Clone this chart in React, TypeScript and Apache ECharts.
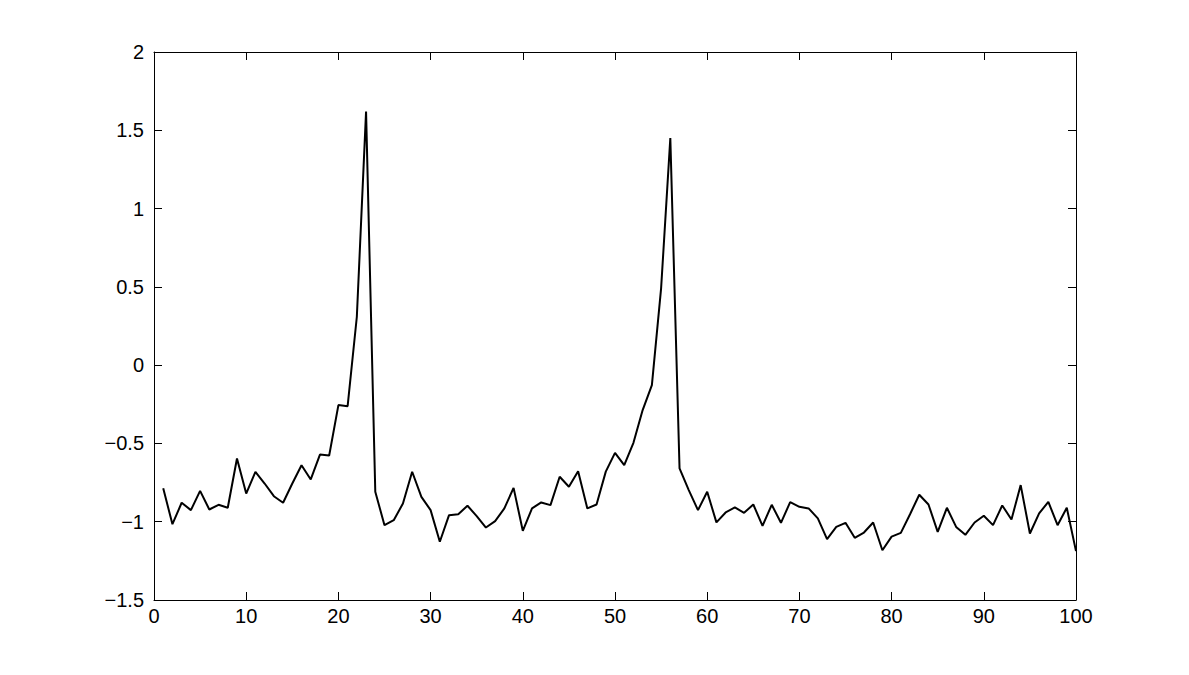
import React, { useEffect, useRef } from "react";
import * as echarts from "echarts";

const xValues: number[] = Array.from({ length: 100 }, (_, i) => i + 1);
const yValues: number[] = [
  -0.787, -1.016, -0.879, -0.926, -0.803, -0.922, -0.892, -0.911, -0.596, -0.82,
  -0.681, -0.756, -0.837, -0.879, -0.756, -0.639, -0.73, -0.571, -0.577, -0.255,
  -0.262, 0.309, 1.62, -0.809, -1.022, -0.99, -0.884, -0.681, -0.841, -0.926,
  -1.128, -0.958, -0.952, -0.898, -0.964, -1.037, -0.996, -0.915, -0.784, -1.058,
  -0.915, -0.877, -0.894, -0.713, -0.777, -0.677, -0.915, -0.89, -0.68, -0.56,
  -0.639, -0.496, -0.287, -0.128, 0.49, 1.45, -0.66, -0.798, -0.926, -0.809,
  -1.004, -0.941, -0.909, -0.943, -0.89, -1.026, -0.892, -1.007, -0.875, -0.905,
  -0.915, -0.979, -1.111, -1.033, -1.007, -1.103, -1.069, -1.005, -1.182, -1.095,
  -1.071, -0.952, -0.828, -0.89, -1.065, -0.911, -1.033, -1.084, -1.005, -0.962,
  -1.022, -0.896, -0.986, -0.766, -1.075, -0.947, -0.873, -1.022, -0.911, -1.188,
];
const xTicks: number[] = [0, 10, 20, 30, 40, 50, 60, 70, 80, 90, 100];
const yTicks: number[] = [-1.5, -1, -0.5, 0, 0.5, 1, 1.5, 2];

const FONT = "'Liberation Sans', Arial, Helvetica, sans-serif";
const fmt = (v: number) => String(v).replace("-", "\u2212");

export default function App() {
  const ref = useRef<HTMLDivElement>(null);
  useEffect(() => {
    if (!ref.current) return;
    const chart = echarts.init(ref.current, null, { renderer: "svg" });
    const axisLine = { show: true, onZero: false, lineStyle: { color: "#000", width: 1 } };
    const tick = { show: true, inside: true, length: 8, lineStyle: { color: "#000", width: 1 } };
    const label = { color: "#000", fontSize: 20, fontFamily: FONT };
    chart.setOption({
      animation: false,
      backgroundColor: "#fff",
      grid: { left: 154, right: 113, top: 52, bottom: 75, containLabel: false },
      xAxis: [
        {
          type: "value",
          min: xTicks[0],
          max: xTicks[xTicks.length - 1],
          interval: 10,
          position: "bottom",
          axisLine,
          axisTick: tick,
          axisLabel: { ...label, margin: 6, formatter: (v: number) => fmt(v) },
          splitLine: { show: false },
        },
        {
          type: "value",
          min: xTicks[0],
          max: xTicks[xTicks.length - 1],
          interval: 10,
          position: "top",
          axisLine,
          axisTick: tick,
          axisLabel: { show: false },
          splitLine: { show: false },
        },
      ],
      yAxis: [
        {
          type: "value",
          min: yTicks[0],
          max: yTicks[yTicks.length - 1],
          interval: 0.5,
          position: "left",
          axisLine,
          axisTick: tick,
          axisLabel: { ...label, margin: 10, formatter: (v: number) => fmt(v) },
          splitLine: { show: false },
        },
        {
          type: "value",
          min: yTicks[0],
          max: yTicks[yTicks.length - 1],
          interval: 0.5,
          position: "right",
          axisLine,
          axisTick: tick,
          axisLabel: { show: false },
          splitLine: { show: false },
        },
      ],
      series: [
        {
          type: "line",
          data: xValues.map((x, i) => [x, yValues[i]]),
          showSymbol: false,
          symbol: "none",
          lineStyle: { color: "#000", width: 2 },
          xAxisIndex: 0,
          yAxisIndex: 0,
        },
      ],
    });
    return () => chart.dispose();
  }, []);
  return <div ref={ref} style={{ width: 1189, height: 675, position: "absolute", left: 0, top: 0 }} />;
}
